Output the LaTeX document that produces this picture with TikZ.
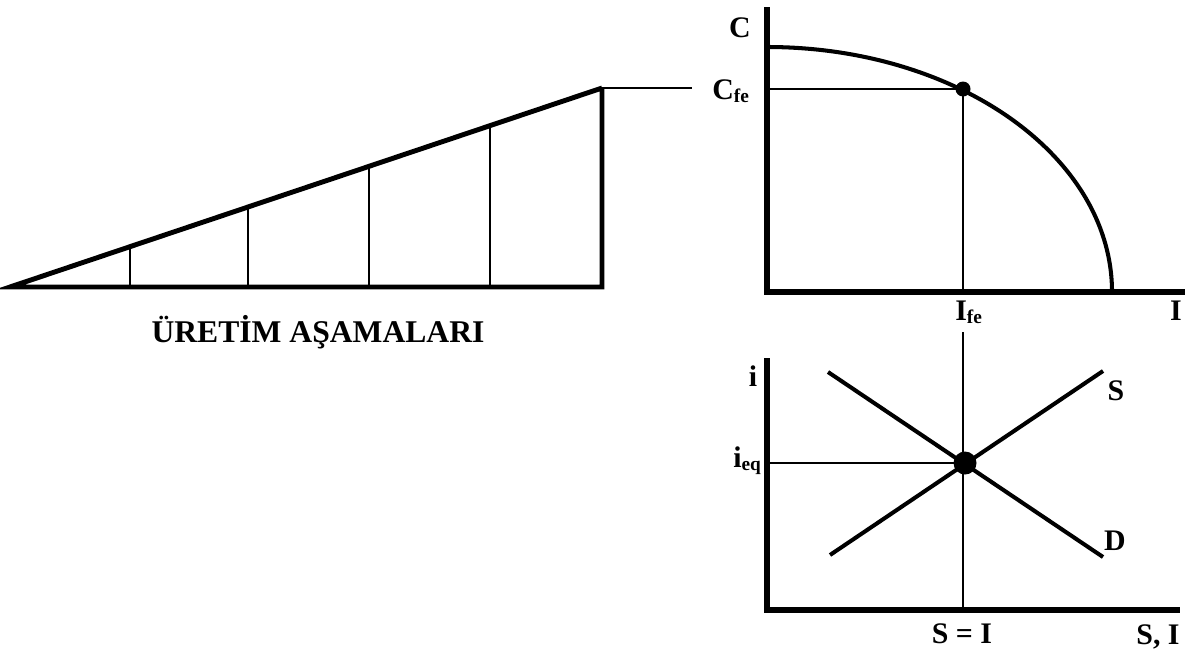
\documentclass[tikz,border=0pt]{standalone}
\usepackage{fontspec}
\setmainfont{Liberation Serif}
\usepackage{tikz}
\usetikzlibrary{positioning}
\newcommand{\lowtxt}[1]{\raisebox{-0.25ex}{\fontsize{11}{12}\selectfont #1}}

\begin{document}
\begin{tikzpicture}[x=0.02cm, y=-0.02cm, font=\bfseries\fontsize{17}{19}\selectfont,
  ax/.style={line width=3.2pt},
  ramp/.style={line width=2.8pt},
  guide/.style={line width=1.1pt},
  curve/.style={line width=2.3pt},
  lbl/.style={inner sep=0pt, anchor=base},
  dot/.style={circle, fill=black, inner sep=0pt}]
  \useasboundingbox (0,0) rectangle (1185,653);
  % production stages
  \coordinate (t0) at (10,287);
  \coordinate (tb) at (602,287);
  \coordinate (tt) at (602,88);
  \coordinate (tl) at (692,88);
  \draw[ramp, line join=miter] (tt) -- (t0) -- (tb) -- (tt);
  \foreach \x in {130,248,369,490}
    \draw[guide] (\x,287) -- (\x,{287-(\x-10)*0.33615});
  \draw[guide] (tt) -- (tl);
  \node[lbl, font=\bfseries\fontsize{18}{20}\selectfont] (stages) at (318,342) {ÜRETİM AŞAMALARI};
  % upper panel
  \coordinate (uo) at (767,292);
  \coordinate (uy) at (767,7);
  \coordinate (ux) at (1185,292);
  \draw[ax] (uy) -- (uo) -- (ux);
  \draw[curve] (767,47) arc[start angle=90, end angle=0, x radius=345, y radius=-245];
  \node[dot, minimum size=15*0.02cm] (fe) at (963,89) {};
  \coordinate (cfe) at (767,89);
  \coordinate (ife) at (963,292);
  \draw[guide] (cfe) -- (fe.center) -- (ife);
  \node[lbl] (C) at (740,37) {C};
  \node[lbl, anchor=base west] (Cfe) at (712,99) {C\lowtxt{fe}};
  \node[lbl, anchor=base west] (Ife) at (955,320) {I\lowtxt{fe}};
  \node[lbl] (I) at (1176,320) {I};
  % lower panel
  \coordinate (lo) at (767,610);
  \coordinate (ly) at (767,358);
  \coordinate (lx) at (1180,610);
  \draw[ax] (ly) -- (lo) -- (lx);
  \node[dot, minimum size=23*0.02cm] (eq) at (965,463) {};
  \coordinate (vtop) at (963,332);
  \coordinate (vbot) at (963,610);
  \coordinate (ieq) at (767,463);
  \draw[guide] (vtop) -- (vbot);
  \draw[guide] (ieq) -- (eq.center);
  \coordinate (s0) at (830,555);
  \coordinate (s1) at (1103,371);
  \coordinate (d0) at (828,372);
  \coordinate (d1) at (1103,557);
  \draw[curve] (s0) -- (s1);
  \draw[curve] (d0) -- (d1);
  \node[lbl] (i) at (753,386) {i};
  \node[lbl, anchor=base west] (ieqlbl) at (733,467) {i\lowtxt{eq}};
  \node[lbl] (Slbl) at (1116,400) {S};
  \node[lbl] (Dlbl) at (1115,550) {D};
  \node[lbl] (SI) at (962,643) {S = I};
  \node[lbl] (SIx) at (1158,644) {S, I};
\end{tikzpicture}
\end{document}
